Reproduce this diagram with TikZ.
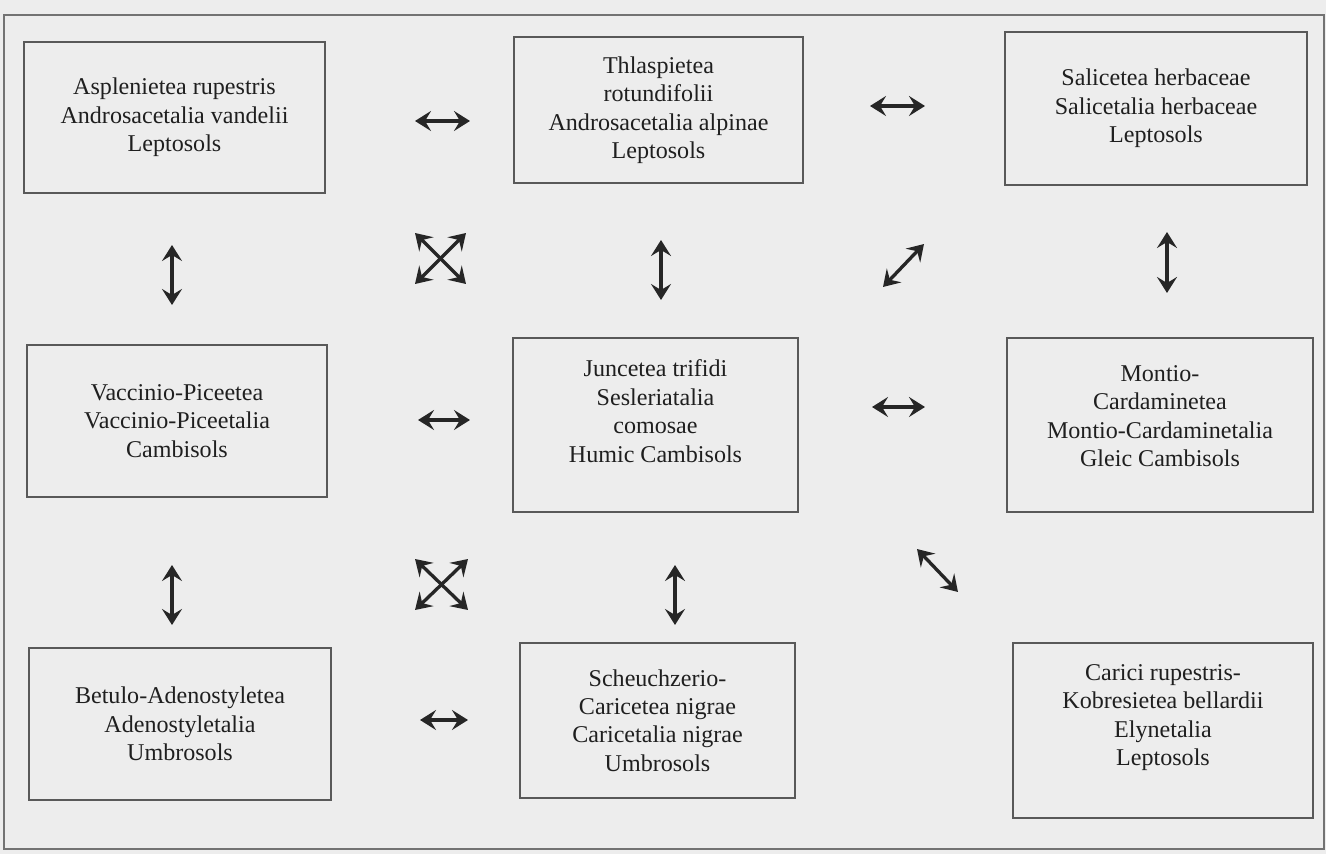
\documentclass[tikz,border=0pt]{standalone}
\usepackage{fontspec}
\setmainfont{Liberation Serif}
\usetikzlibrary{arrows.meta}

\begin{document}
\begin{tikzpicture}[
    x=0.02cm, y=-0.02cm,
    taxon/.style={draw=black!65, line width=0.8pt, align=center, inner sep=0pt,
                  minimum width=6cm, minimum height=3.04cm,
                  font=\fontsize{13.7}{16.2}\selectfont, text=black!88},
    dbl/.style={{Stealth[length=0.32cm, width=0.4cm, inset=0.12cm]}-{Stealth[length=0.32cm, width=0.4cm, inset=0.12cm]},
                line width=1.9pt, color=black!85},
    frame/.style={draw=black!55, line width=0.6pt},
]

% ── Paper and outer frame ─────────────────────────────
\fill[black!7] (0,0) rectangle (1326,854);
\useasboundingbox (0,0) rectangle (1326,854);
\draw[frame] (4,15) rectangle (1324,849);

% ── Row 1: rock and scree ─────────────────────────────
\node[taxon, minimum width=6.02cm, minimum height=3.02cm] (asplen)
    at (174.5,117.5) {Asplenietea rupestris\\Androsacetalia vandelii\\Leptosols};
\node[taxon, minimum width=5.78cm, minimum height=2.92cm] (thlasp)
    at (658.5,110) {Thlaspietea\\rotundifolii\\Androsacetalia alpinae\\Leptosols};
\node[taxon, minimum width=6.04cm, minimum height=3.06cm] (salic)
    at (1156,108.5) {Salicetea herbaceae\\Salicetalia herbaceae\\Leptosols};

% ── Row 2: heath and grassland ────────────────────────
\node[taxon] (vaccin)
    at (177,421) {Vaccinio-Piceetea\\Vaccinio-Piceetalia\\Cambisols};
\node[taxon, minimum width=5.7cm, minimum height=3.48cm, text depth=0.56cm] (juncet)
    at (655.5,425) {Juncetea trifidi\\Sesleriatalia\\comosae\\Humic Cambisols};
\node[taxon, minimum width=6.12cm, minimum height=3.48cm, text depth=0.36cm] (montio)
    at (1160,425) {Montio-\\Cardaminetea\\Montio-Cardaminetalia\\Gleic Cambisols};

% ── Row 3: tall herbs, mires, ridges ──────────────────
\node[taxon, minimum width=6.04cm] (betulo)
    at (180,724) {Betulo-Adenostyletea\\Adenostyletalia\\Umbrosols};
\node[taxon, minimum width=5.5cm, minimum height=3.1cm] (scheu)
    at (657.5,720.5) {Scheuchzerio-\\Caricetea nigrae\\Caricetalia nigrae\\Umbrosols};
\node[taxon, minimum height=3.5cm, text depth=0.62cm] (carici)
    at (1163,730.5) {Carici rupestris-\\Kobresietea bellardii\\Elynetalia\\Leptosols};

% ── Arrow end points ──────────────────────────────────
\coordinate (h12a) at (415,121);  \coordinate (h12b) at (470,121);
\coordinate (h23a) at (870,106);  \coordinate (h23b) at (925,106);
\coordinate (h45a) at (418,420);  \coordinate (h45b) at (470,420);
\coordinate (h56a) at (872,407);  \coordinate (h56b) at (925,407);
\coordinate (h78a) at (420,720);  \coordinate (h78b) at (468,720);
\coordinate (v14a) at (172,245);  \coordinate (v14b) at (172,305);
\coordinate (v25a) at (661,240);  \coordinate (v25b) at (661,300);
\coordinate (v36a) at (1167,232); \coordinate (v36b) at (1167,293);
\coordinate (v47a) at (172,565);  \coordinate (v47b) at (172,625);
\coordinate (v58a) at (675,565);  \coordinate (v58b) at (675,625);
\coordinate (xa1) at (415,233);   \coordinate (xa2) at (466,284);
\coordinate (xa3) at (466,233);   \coordinate (xa4) at (415,284);
\coordinate (xb1) at (415,559);   \coordinate (xb2) at (468,610);
\coordinate (xb3) at (468,559);   \coordinate (xb4) at (415,610);
\coordinate (d53a) at (883,287);  \coordinate (d53b) at (924,244);
\coordinate (d59a) at (917,549);  \coordinate (d59b) at (958,592);

% ── Horizontal links ──────────────────────────────────
\draw[dbl] (h12a) -- (h12b);
\draw[dbl] (h23a) -- (h23b);
\draw[dbl] (h45a) -- (h45b);
\draw[dbl] (h56a) -- (h56b);
\draw[dbl] (h78a) -- (h78b);

% ── Vertical links ────────────────────────────────────
\draw[dbl] (v14a) -- (v14b);
\draw[dbl] (v25a) -- (v25b);
\draw[dbl] (v36a) -- (v36b);
\draw[dbl] (v47a) -- (v47b);
\draw[dbl] (v58a) -- (v58b);

% ── Diagonal links ────────────────────────────────────
\draw[dbl] (xa1) -- (xa2);
\draw[dbl] (xa3) -- (xa4);
\draw[dbl] (xb1) -- (xb2);
\draw[dbl] (xb3) -- (xb4);
\draw[dbl] (d53a) -- (d53b);
\draw[dbl] (d59a) -- (d59b);

\end{tikzpicture}
\end{document}
